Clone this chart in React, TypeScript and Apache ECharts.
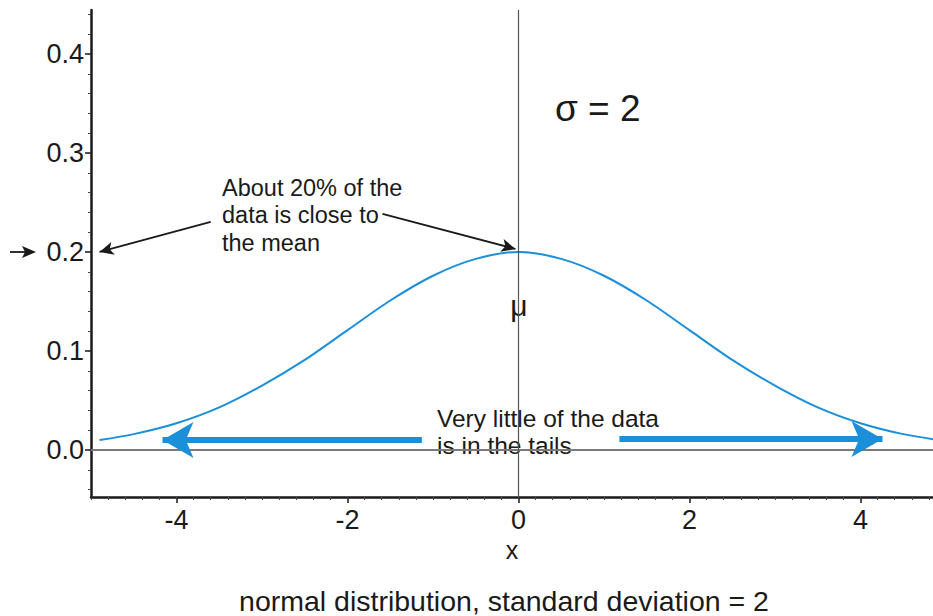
import React, { useEffect, useRef } from "react";
import * as echarts from "echarts";

// curve points
const xValues = [-4.9, -4.5, -4, -3.5, -3, -2.5, -2, -1.5, -1, -0.5, 0, 0.5, 1, 1.5, 2, 2.5, 3, 3.5, 4, 4.5, 5];
const yValues = [0.010, 0.016, 0.027, 0.043, 0.065, 0.091, 0.121, 0.151, 0.176, 0.193, 0.200, 0.193, 0.176, 0.151, 0.121, 0.091, 0.065, 0.043, 0.027, 0.016, 0.009];

const xTickLabels = [-4, -2, 0, 2, 4];
const yTickLabels = [0, 0.1, 0.2, 0.3, 0.4];
const xMinorTicks = [-5, -4.8, -4.6, -4.4, -4.2, -4, -3.8, -3.6, -3.4, -3.2, -3, -2.8, -2.6, -2.4, -2.2, -2, -1.8, -1.6, -1.4, -1.2, -1, -0.8, -0.6, -0.4, -0.2, 0, 0.2, 0.4, 0.6, 0.8, 1, 1.2, 1.4, 1.6, 1.8, 2, 2.2, 2.4, 2.6, 2.8, 3, 3.2, 3.4, 3.6, 3.8, 4, 4.2, 4.4, 4.6, 4.8];
const yMinorTicks = [-0.04, -0.02, 0, 0.02, 0.04, 0.06, 0.08, 0.1, 0.12, 0.14, 0.16, 0.18, 0.2, 0.22, 0.24, 0.26, 0.28, 0.3, 0.32, 0.34, 0.36, 0.38, 0.4, 0.42, 0.44];

const X_MIN = -5;
const X_MAX = 4.848;
const Y_MIN = -0.0475;
const Y_MAX = 0.4444;

const FONT = "Liberation Sans, Arial, Helvetica, sans-serif";
const BLUE = "#1b8fd8";
const INK = "#1a1a1a";

export default function App() {
  const ref = useRef<HTMLDivElement>(null);
  useEffect(() => {
    if (!ref.current) return;
    const chart = echarts.init(ref.current, null, { renderer: "svg" });
    const data = xValues.map((x, i) => [x, yValues[i]]);
    const baseX = { type: "value", min: X_MIN, max: X_MAX, position: "bottom", splitLine: { show: false } };
    const baseY = { type: "value", min: Y_MIN, max: Y_MAX, position: "left", splitLine: { show: false } };
    chart.setOption({
      animation: false,
      backgroundColor: "#ffffff",
      grid: { left: 91, right: 0, top: 10, bottom: 119, containLabel: false },
      xAxis: [
        {
          ...baseX,
          axisLine: { show: true, onZero: false, lineStyle: { color: INK, width: 2.5 } },
          axisTick: { show: true, customValues: xTickLabels, length: 6, lineStyle: { color: INK, width: 1.5 } },
          axisLabel: { customValues: xTickLabels, fontSize: 27, fontFamily: FONT, color: INK, margin: 9 },
          name: "x",
          nameLocation: "middle",
          nameGap: 40,
          nameTextStyle: { fontSize: 25, fontFamily: FONT, color: INK },
        },
        {
          ...baseX,
          axisLine: { show: false, onZero: false },
          axisTick: { show: true, customValues: xMinorTicks, length: 3, lineStyle: { color: "#444", width: 1 } },
          axisLabel: { show: false },
        },
      ],
      yAxis: [
        {
          ...baseY,
          axisLine: { show: true, onZero: false, lineStyle: { color: INK, width: 2.5 } },
          axisTick: { show: true, customValues: yTickLabels, length: 6, lineStyle: { color: INK, width: 1.5 } },
          axisLabel: {
            customValues: yTickLabels,
            fontSize: 27,
            fontFamily: FONT,
            color: INK,
            margin: 7,
            formatter: (v: number) => v.toFixed(1),
          },
        },
        {
          ...baseY,
          axisLine: { show: false, onZero: false },
          axisTick: { show: true, customValues: yMinorTicks, length: 3, lineStyle: { color: "#444", width: 1 } },
          axisLabel: { show: false },
        },
      ],
      series: [
        {
          type: "line",
          data,
          smooth: 0.3,
          showSymbol: false,
          silent: true,
          clip: true,
          lineStyle: { color: BLUE, width: 2 },
          markLine: {
            silent: true,
            symbol: "none",
            label: { show: false },
            emphasis: { disabled: true },
            data: [
              { yAxis: 0, lineStyle: { color: "#7a7a7a", width: 2, type: "solid" } },
              { xAxis: 0, lineStyle: { color: "#555555", width: 1.2, type: "solid" } },
              [
                { coord: [-1.13, 0.0101], symbol: "none", lineStyle: { color: BLUE, width: 6, type: "solid" } },
                { coord: [-4.164, 0.0101], symbol: "arrow", symbolSize: [27, 31] },
              ],
              [
                { coord: [1.18, 0.0111], symbol: "none", lineStyle: { color: BLUE, width: 6, type: "solid" } },
                { coord: [4.257, 0.0111], symbol: "arrow", symbolSize: [27, 31] },
              ],
              [
                { coord: [-3.6, 0.2303], symbol: "none", lineStyle: { color: INK, width: 1.8, type: "solid" } },
                { coord: [-4.9, 0.2], symbol: "arrow", symbolSize: [10, 14] },
              ],
              [
                { coord: [-1.591, 0.2384], symbol: "none", lineStyle: { color: INK, width: 1.8, type: "solid" } },
                { coord: [-0.035, 0.203], symbol: "arrow", symbolSize: [10, 14] },
              ],
            ],
          },
        },
      ],
      graphic: [
        { type: "line", shape: { x1: 10, y1: 252, x2: 28, y2: 252 }, style: { stroke: INK, lineWidth: 1.8 } },
        { type: "polygon", shape: { points: [[22, 246], [36, 252], [22, 258], [25, 252]] }, style: { fill: INK } },
        {
          type: "text",
          x: 222,
          y: 174,
          style: {
            text: "About 20% of the\ndata is close to\nthe mean",
            fontSize: 23.5,
            lineHeight: 27.5,
            fontFamily: FONT,
            fill: INK,
            align: "left",
            verticalAlign: "top",
          },
        },
        {
          type: "text",
          x: 437,
          y: 404.5,
          style: {
            text: "Very little of the data\nis in the tails",
            fontSize: 24.5,
            lineHeight: 27,
            fontFamily: FONT,
            fill: INK,
            align: "left",
            verticalAlign: "top",
          },
        },
        {
          type: "text",
          x: 555,
          y: 108,
          style: { text: "σ = 2", fontSize: 37, fontFamily: FONT, fill: INK, align: "left", verticalAlign: "middle" },
        },
        {
          type: "text",
          x: 519,
          y: 305,
          style: { text: "μ", fontSize: 30, fontFamily: FONT, fill: INK, align: "center", verticalAlign: "middle" },
        },
        {
          type: "text",
          x: 504,
          y: 601,
          style: {
            text: "normal distribution, standard deviation = 2",
            fontSize: 28.5,
            fontFamily: FONT,
            fill: INK,
            align: "center",
            verticalAlign: "middle",
          },
        },
      ],
    });
    return () => chart.dispose();
  }, []);
  return <div ref={ref} style={{ position: "absolute", left: 0, top: 0, width: 933, height: 616 }} />;
}
